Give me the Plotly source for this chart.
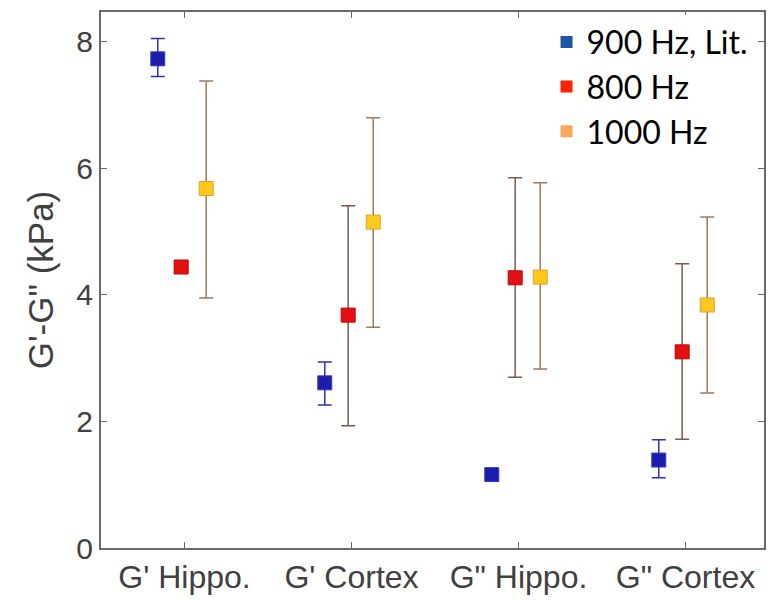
import plotly.graph_objects as go

categories = ["G' Hippo.", "G' Cortex", 'G" Hippo.', 'G" Cortex']
series_names = ["900 Hz, Lit.", "800 Hz", "1000 Hz"]

v900 = [7.73, 2.61, 1.16, 1.39]
hi900 = [8.05, 2.94, 1.24, 1.71]
lo900 = [7.45, 2.26, 1.08, 1.11]

v800 = [4.44, 3.68, 4.27, 3.10]
hi800 = [4.44, 5.41, 5.85, 4.49]
lo800 = [4.44, 1.93, 2.70, 1.72]

v1000 = [5.68, 5.15, 4.28, 3.84]
hi1000 = [7.38, 6.80, 5.77, 5.23]
lo1000 = [3.95, 3.49, 2.83, 2.45]

y_ticks = [0, 2, 4, 6, 8]

offsets = [-0.16, -0.02, 0.13]
marker_colors = ["#1c1caa", "#e21010", "#ffc81a"]
marker_lines = ["#3a3ad0", "#c00000", "#e0a030"]
err_colors = ["#3030b0", "#7a5a4c", "#a07a58"]
legend_colors = ["#1b56a0", "#ff2200", "#f9a85b"]

fig = go.Figure()
data = [(v900, hi900, lo900), (v800, hi800, lo800), (v1000, hi1000, lo1000)]
for i, (v, hi, lo) in enumerate(data):
    xs = [k + offsets[i] for k in range(len(categories))]
    fig.add_trace(go.Scatter(
        x=xs, y=v, mode="markers", showlegend=False,
        marker=dict(symbol="square", size=14, color=marker_colors[i],
                    line=dict(color=marker_lines[i], width=1)),
        error_y=dict(type="data", symmetric=False,
                     array=[h - a for h, a in zip(hi, v)],
                     arrayminus=[a - l for a, l in zip(v, lo)],
                     color=err_colors[i], thickness=1.5, width=7),
    ))
for i, name in enumerate(series_names):
    fig.add_trace(go.Scatter(
        x=[None], y=[None], mode="markers", name=name,
        marker=dict(symbol="square", size=16, color=legend_colors[i]),
    ))

fig.update_layout(
    width=779, height=600,
    margin=dict(l=93, r=23, t=4, b=60),
    plot_bgcolor="white", paper_bgcolor="white",
    showlegend=True,
    legend=dict(x=0.672, y=0.995, xanchor="left", yanchor="top",
                bgcolor="white", borderwidth=0,
                font=dict(family="Lato", size=32, color="black"),
                itemsizing="constant", tracegroupgap=0),
    xaxis=dict(range=[-0.5, 3.47], tickmode="array",
               tickvals=list(range(len(categories))), ticktext=categories,
               showline=True, linecolor="#6a6a6a", linewidth=2, mirror="ticks",
               ticks="inside", ticklen=6, tickcolor="#6a6a6a",
               showgrid=False, zeroline=False, automargin=False,
               tickfont=dict(family="Liberation Sans", size=32, color="#404040")),
    yaxis=dict(range=[0, 8.47], tickmode="array", tickvals=y_ticks,
               showline=True, linecolor="#6a6a6a", linewidth=2, mirror="ticks",
               ticks="inside", ticklen=6, tickcolor="#6a6a6a",
               showgrid=False, zeroline=False, automargin=False,
               title=dict(text="G'-G\" (kPa)", standoff=12,
                          font=dict(family="Liberation Sans", size=35, color="#404040")),
               tickfont=dict(family="Liberation Sans", size=30, color="#404040")),
)

fig.write_html("out.html")
